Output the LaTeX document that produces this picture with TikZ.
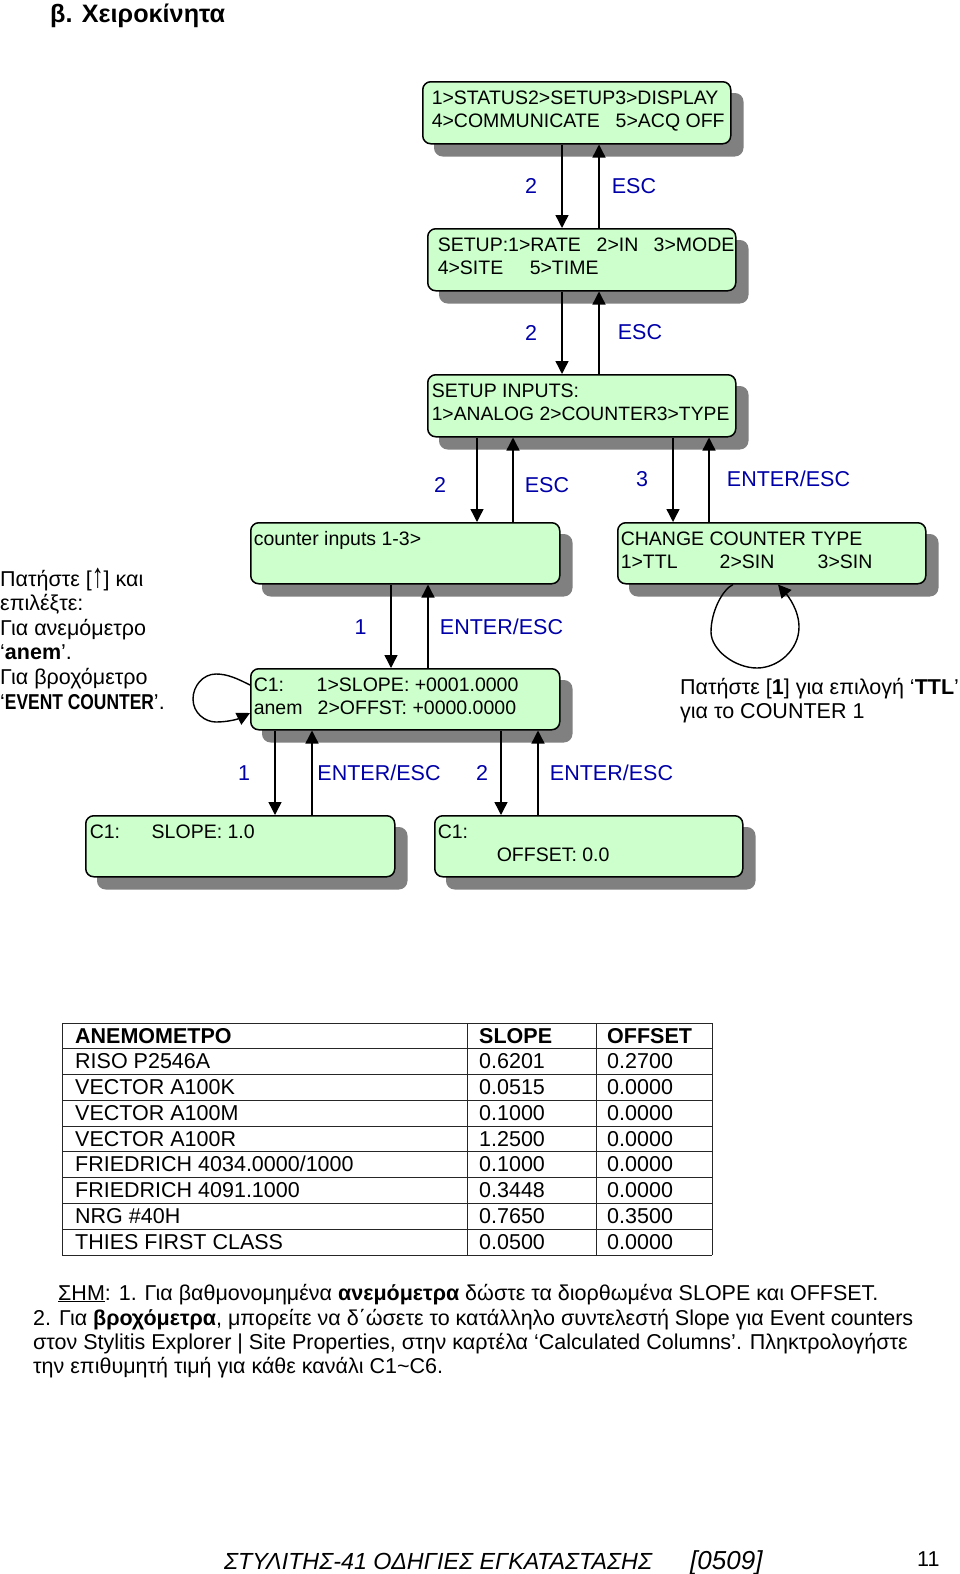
\documentclass[tikz,border=0pt]{standalone}
\usepackage{fontspec}
\setmainfont{Liberation Sans}
\usetikzlibrary{shadows,arrows.meta}
\definecolor{lcdfill}{HTML}{CCFFCC}
\definecolor{lcdshadow}{HTML}{808080}
\definecolor{keyblue}{HTML}{0000A8}
\newcommand{\bodysize}{\fontsize{21.5}{24}\selectfont}
\newcommand{\lcdsize}{\fontsize{19.5}{22}\selectfont}
\newcommand{\lcdlines}[4]{\parbox[c][#2pt][t]{#1pt}{\parindent=0pt\leftskip=#3pt\relax\rightskip=0pt plus 1fil\baselineskip=22.5pt\rule{0pt}{23pt}#4}}
\newcommand{\col}[2]{\makebox[#1pt][l]{#2}}
\tikzset{
  lcd/.style={draw=black,line width=1.5pt,rounded corners=8pt,fill=lcdfill,inner sep=0pt,anchor=north west,font=\lcdsize,
    copy shadow={fill=lcdshadow,draw=lcdshadow,shadow xshift=12pt,shadow yshift=-12pt}},
  wire/.style={line width=1.4pt,-{Triangle[length=13pt,width=13pt]}},
  key/.style={text=keyblue,inner sep=0pt,font=\bodysize},
  txt/.style={inner sep=0pt,anchor=base west,font=\bodysize},
  rule/.style={line width=1pt,draw=black!85}
}
\begin{document}
\begin{tikzpicture}[x=1pt,y=-1pt]
\useasboundingbox (0,0) rectangle (960,1574);
\node[txt,font=\fontsize{25.2}{28}\selectfont\bfseries] (title) at (50,22) {β. Χειροκίνητα};

\node[lcd] (b1) at (422,81) {\lcdlines{308}{62}{9}{\col{184}{1>STATUS2>SETUP3>DISPLAY}\\\col{184}{4>COMMUNICATE}5>ACQ OFF}};
\node[lcd] (b2) at (427,228) {\lcdlines{308}{62}{10}{\col{159}{SETUP:1>RATE}\col{57}{2>IN}3>MODE\\\col{92}{4>SITE}5>TIME}};
\node[lcd] (b3) at (427,374) {\lcdlines{308}{62}{4}{SETUP INPUTS:\\\mbox{\fontsize{19.3}{22}\selectfont 1>ANALOG 2>COUNTER3>TYPE}}};
\node[lcd] (b4) at (250,522) {\lcdlines{309}{61}{3}{counter inputs 1-3>}};
\node[lcd] (b5) at (617,522) {\lcdlines{308}{61}{3}{CHANGE COUNTER TYPE\\\col{99}{1>TTL}\col{98}{2>SIN}3>SIN}};
\node[lcd] (b6) at (250,668) {\lcdlines{309}{61}{3}{\col{63}{C1:}1>SLOPE: +0001.0000\\\col{64}{anem}2>OFFST: +0000.0000}};
\node[lcd] (b7) at (85,815) {\lcdlines{309}{61}{4}{\col{62}{C1:}SLOPE: 1.0}};
\node[lcd] (b8) at (434,815) {\lcdlines{308}{61}{3}{C1:\\\hspace*{59pt}OFFSET: 0.0}};

\draw[wire] (562,0 |- b1.south) -- (562,0 |- b2.north);
\draw[wire] (599,0 |- b2.north) -- (599,0 |- b1.south);
\draw[wire] (562,0 |- b2.south) -- (562,0 |- b3.north);
\draw[wire] (599,0 |- b3.north) -- (599,0 |- b2.south);
\draw[wire] (477,0 |- b3.south) -- (477,0 |- b4.north);
\draw[wire] (513,0 |- b4.north) -- (513,0 |- b3.south);
\draw[wire] (673,0 |- b3.south) -- (673,0 |- b5.north);
\draw[wire] (709,0 |- b5.north) -- (709,0 |- b3.south);
\draw[wire] (391,0 |- b4.south) -- (391,0 |- b6.north);
\draw[wire] (428,0 |- b6.north) -- (428,0 |- b4.south);
\draw[wire] (275,0 |- b6.south) -- (275,0 |- b7.north);
\draw[wire] (312,0 |- b7.north) -- (312,0 |- b6.south);
\draw[wire] (501,0 |- b6.south) -- (501,0 |- b8.north);
\draw[wire] (538,0 |- b8.north) -- (538,0 |- b6.south);

\coordinate (l1a) at (b6.north west |- 0,685);
\coordinate (l1b) at (b6.north west |- 0,713);
\draw[wire] (l1a) .. controls (238,679) and (228,674) .. (216,674)
  .. controls (203,674) and (193,686) .. (193,699)
  .. controls (193,713) and (205,722) .. (216,722)
  .. controls (228,722) and (238,719) .. (l1b);
\coordinate (l2a) at (733,0 |- b5.south);
\coordinate (l2b) at (778,0 |- b5.south);
\draw[wire] (l2a) .. controls (722,590) and (711,612) .. (711,632)
  .. controls (711,650) and (735,668) .. (757,668)
  .. controls (778,668) and (799,650) .. (799,627)
  .. controls (799,610) and (788,596) .. (l2b);

\node[key] (k1) at (531,186) {2};
\node[key] (k2) at (634,186) {ESC};
\node[key] (k3) at (531,332.5) {2};
\node[key] (k4) at (640,332.5) {ESC};
\node[key] (k5) at (440,485) {2};
\node[key] (k6) at (547,485) {ESC};
\node[key] (k7) at (642,479) {3};
\node[key] (k8) at (788.5,479) {ENTER/ESC};
\node[key] (k9) at (360.5,627) {1};
\node[key] (k10) at (501.5,627) {ENTER/ESC};
\node[key] (k11) at (244,773) {1};
\node[key] (k12) at (379,773) {ENTER/ESC};
\node[key] (k13) at (482,773) {2};
\node[key] (k14) at (611.5,773) {ENTER/ESC};

\node[txt] (n1) at (0,586) {Πατήστε [\raisebox{-1.5pt}{\scalebox{1.1}[1.6]{↑}}] και};
\node[txt] (n2) at (0,610) {επιλέξτε:};
\node[txt] (n3) at (0,635) {Για ανεμόμετρο};
\node[txt] (n4) at (0,659) {‘\textbf{anem}’.};
\node[txt] (n5) at (0,684) {Για βροχόμετρο};
\node[txt] (n6) at (0,709) {‘\scalebox{0.81}[1]{\textbf{EVENT COUNTER}}’.};
\node[txt] (n7) at (680,694) {Πατήστε [\textbf{1}] για επιλογή ‘\textbf{TTL}’};
\node[txt] (n8) at (680,718) {για το COUNTER 1};

\foreach \i in {0,...,9} \draw[rule] (62,{1023+25.78*\i}) -- (712,{1023+25.78*\i});
\foreach \x in {62,467,596,712} \draw[rule] (\x,1023) -- (\x,1255);
\foreach \i/\a/\b/\c in {
 0/\textbf{ΑΝΕΜΟΜΕΤΡΟ}/\textbf{SLOPE}/\textbf{OFFSET},
 1/RISO P2546A/0.6201/0.2700,
 2/VECTOR A100K/0.0515/0.0000,
 3/VECTOR A100M/0.1000/0.0000,
 4/VECTOR A100R/1.2500/0.0000,
 6/FRIEDRICH 4091.1000/0.3448/0.0000,
 7/NRG \#40H/0.7650/0.3500,
 8/THIES FIRST CLASS/0.0500/0.0000}{
  \node[txt] (ta\i) at (75,{1043+25.78*\i}) {\a};
  \node[txt] (tb\i) at (479,{1043+25.78*\i}) {\b};
  \node[txt] (tc\i) at (607,{1043+25.78*\i}) {\c};
}
\node[txt] (ta5) at (75,{1043+25.78*5}) {FRIEDRICH 4034.0000{/}1000};
\node[txt] (tb5) at (479,{1043+25.78*5}) {0.1000};
\node[txt] (tc5) at (607,{1043+25.78*5}) {0.0000};

\node[txt] (s1) at (58,1300) {\underline{ΣΗΜ}: 1. Για βαθμονομημένα \textbf{ανεμόμετρα} δώστε τα διορθωμένα SLOPE και OFFSET.};
\node[txt] (s2) at (33,1325) {2. Για \textbf{βροχόμετρα}, μπορείτε να δ΄ώσετε το κατάλληλο συντελεστή Slope για Event counters};
\node[txt] (s3) at (33,1349) {στον Stylitis Explorer | Site Properties, στην καρτέλα ‘Calculated Columns’. Πληκτρολογήστε};
\node[txt] (s4) at (33,1373) {την επιθυμητή τιμή για κάθε κανάλι C1\textasciitilde C6.};

\node[txt,font=\fontsize{23.3}{28}\selectfont\itshape] (f1) at (224,1569) {ΣΤΥΛΙΤΗΣ-41 ΟΔΗΓΙΕΣ ΕΓΚΑΤΑΣΤΑΣΗΣ};
\node[txt,font=\fontsize{26}{28}\selectfont\itshape] (f2) at (690,1569) {[0509]};
\node[txt] (f3) at (917,1566) {11};
\end{tikzpicture}
\end{document}
